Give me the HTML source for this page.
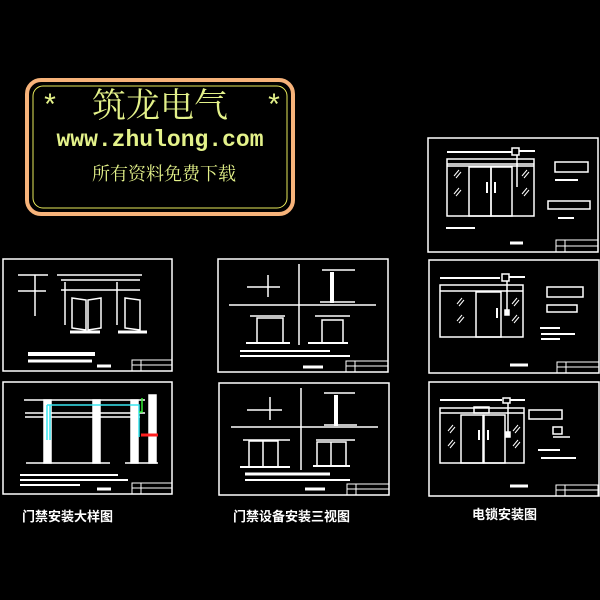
<!DOCTYPE html>
<html><head><meta charset="utf-8"><style>
html,body{margin:0;padding:0;background:#000;width:600px;height:600px;overflow:hidden}
svg{display:block}
.t{font-family:"Liberation Sans","Noto Sans CJK SC",sans-serif;font-weight:bold;fill:#fff}
</style></head><body>
<svg width="600" height="600" viewBox="0 0 600 600" xmlns="http://www.w3.org/2000/svg">
<rect width="600" height="600" fill="#000"/>
<!-- logo -->
<rect x="27" y="80" width="266" height="134" rx="14" fill="none" stroke="#f7b37a" stroke-width="4"/>
<rect x="33" y="86" width="254" height="122" rx="10" fill="none" stroke="#e8ea5a" stroke-width="1"/>
<g fill="#e4f28a" font-family="'Noto Serif CJK SC','Noto Sans CJK SC',serif">
<text x="50" y="115" font-size="30" text-anchor="middle" font-family="'Liberation Mono',monospace">*</text>
<text x="274" y="115" font-size="30" text-anchor="middle" font-family="'Liberation Mono',monospace">*</text>
<text x="160" y="117" font-size="34" text-anchor="middle">筑龙电气</text>
<text x="160" y="146" font-size="23" text-anchor="middle" font-family="'Liberation Mono',monospace" font-weight="bold">www.zhulong.com</text>
<text x="164" y="180" font-size="18" text-anchor="middle">所有资料免费下载</text>
</g>
<g fill="none" stroke="#fff" stroke-width="1.5">
<!-- panel frames -->
<rect x="3" y="259" width="169" height="112"/>
<rect x="3" y="382" width="169" height="112"/>
<rect x="218" y="259" width="170" height="113"/>
<rect x="219" y="383" width="170" height="112"/>
<rect x="428" y="138" width="170" height="114"/>
<rect x="429" y="260" width="170" height="113"/>
<rect x="429" y="382" width="170" height="114"/>
<!-- title blocks -->
<g stroke-width="1">
<rect x="132" y="360" width="40" height="11"/><line x1="132" y1="365" x2="172" y2="365"/><line x1="141" y1="360" x2="141" y2="371"/>
<rect x="132" y="483" width="40" height="11"/><line x1="132" y1="488" x2="172" y2="488"/><line x1="141" y1="483" x2="141" y2="494"/>
<rect x="346" y="361" width="42" height="11"/><line x1="346" y1="366" x2="388" y2="366"/><line x1="355" y1="361" x2="355" y2="372"/>
<rect x="347" y="484" width="42" height="11"/><line x1="347" y1="489" x2="389" y2="489"/><line x1="356" y1="484" x2="356" y2="495"/>
<rect x="556" y="240" width="42" height="12"/><line x1="556" y1="246" x2="598" y2="246"/><line x1="565" y1="240" x2="565" y2="252"/>
<rect x="557" y="362" width="42" height="11"/><line x1="557" y1="367" x2="599" y2="367"/><line x1="566" y1="362" x2="566" y2="373"/>
<rect x="556" y="485" width="42" height="11"/><line x1="556" y1="490" x2="598" y2="490"/><line x1="565" y1="485" x2="565" y2="496"/>
</g>
<!-- panel A -->
<line x1="35" y1="275" x2="35" y2="316"/><line x1="18" y1="275" x2="48" y2="275"/><line x1="18" y1="291" x2="46" y2="291"/>
<line x1="57" y1="275" x2="142" y2="275"/><line x1="61" y1="280" x2="140" y2="280"/><line x1="61" y1="290" x2="140" y2="290"/>
<line x1="65" y1="282" x2="65" y2="325"/><line x1="117" y1="282" x2="117" y2="325"/>
<path d="M72 298 L72 328 L86 330 L86 300 Z M88 300 L88 330 L101 328 L101 298 Z"/>
<path d="M125 298 L125 328 L140 330 L140 300 Z"/>
<line x1="70" y1="332" x2="100" y2="332" stroke-width="3"/><line x1="118" y1="332" x2="147" y2="332" stroke-width="3"/>
<line x1="28" y1="354" x2="95" y2="354" stroke-width="4"/><line x1="28" y1="361" x2="92" y2="361" stroke-width="3"/><line x1="97" y1="366" x2="111" y2="366" stroke-width="3"/>
<!-- panel B -->
<line x1="24" y1="400" x2="145" y2="400"/><line x1="25" y1="413" x2="145" y2="413"/><line x1="25" y1="417" x2="140" y2="417"/>
<rect x="44" y="400" width="7" height="63" fill="#fff"/><rect x="93" y="400" width="7" height="63" fill="#fff"/><rect x="131" y="400" width="7" height="63" fill="#fff"/><rect x="149" y="395" width="7" height="68" fill="#fff"/>
<line x1="26" y1="463" x2="110" y2="463"/><line x1="125" y1="463" x2="158" y2="463"/>
<line x1="20" y1="475" x2="118" y2="475" stroke-width="2"/><line x1="20" y1="480" x2="128" y2="480" stroke-width="2"/><line x1="20" y1="485" x2="80" y2="485" stroke-width="2"/>
<line x1="97" y1="489" x2="111" y2="489" stroke-width="3"/>
<!-- panel C (middle top) -->
<line x1="299" y1="264" x2="299" y2="345"/><line x1="229" y1="305" x2="376" y2="305"/>
<line x1="247" y1="287" x2="280" y2="287"/><line x1="268" y1="275" x2="268" y2="297"/>
<line x1="332" y1="272" x2="332" y2="303" stroke-width="4"/><line x1="322" y1="270" x2="355" y2="270"/><line x1="320" y1="302" x2="355" y2="302"/>
<path d="M257 343 L257 318 L283 318 L283 343"/><line x1="250" y1="316" x2="285" y2="316"/><line x1="246" y1="343" x2="290" y2="343" stroke-width="2"/>
<path d="M322 343 L322 320 L343 320 L343 343"/><line x1="315" y1="316" x2="350" y2="316"/><line x1="308" y1="343" x2="348" y2="343" stroke-width="2"/>
<line x1="240" y1="351" x2="330" y2="351" stroke-width="2"/><line x1="240" y1="356" x2="350" y2="356" stroke-width="2"/>
<line x1="303" y1="367" x2="323" y2="367" stroke-width="3"/>
<!-- panel D (middle bottom) -->
<line x1="301" y1="388" x2="301" y2="470"/><line x1="231" y1="427" x2="378" y2="427"/>
<line x1="247" y1="410" x2="282" y2="410"/><line x1="270" y1="397" x2="270" y2="420"/>
<line x1="336" y1="395" x2="336" y2="426" stroke-width="4"/><line x1="324" y1="393" x2="355" y2="393"/><line x1="324" y1="425" x2="357" y2="425"/>
<path d="M249 467 L249 441 L278 441 L278 467 M263 441 L263 467"/><line x1="243" y1="440" x2="290" y2="440"/><line x1="240" y1="467" x2="290" y2="467" stroke-width="2"/>
<path d="M317 466 L317 442 L346 442 L346 466 M331 442 L331 466"/><line x1="316" y1="440" x2="355" y2="440"/><line x1="313" y1="466" x2="350" y2="466" stroke-width="2"/>
<line x1="245" y1="474" x2="330" y2="474" stroke-width="3"/><line x1="245" y1="480" x2="350" y2="480" stroke-width="2"/>
<line x1="305" y1="489" x2="325" y2="489" stroke-width="3"/>
<!-- panel E (right top) -->
<line x1="447" y1="152" x2="512" y2="152" stroke-width="2"/><rect x="512" y="148" width="7" height="7"/><line x1="519" y1="151" x2="535" y2="151" stroke-width="2"/>
<rect x="447" y="159" width="87" height="57"/><line x1="447" y1="164" x2="534" y2="164"/><line x1="447" y1="166" x2="534" y2="166"/>
<rect x="469" y="167" width="22" height="49"/><rect x="491" y="167" width="21" height="49"/>
<line x1="487" y1="182" x2="487" y2="193" stroke-width="2"/><line x1="495" y1="182" x2="495" y2="193" stroke-width="2"/>
<line x1="517" y1="155" x2="517" y2="187"/>
<rect x="555" y="162" width="33" height="10"/><line x1="555" y1="180" x2="578" y2="180" stroke-width="2"/>
<rect x="548" y="201" width="42" height="8"/><line x1="558" y1="218" x2="574" y2="218" stroke-width="2"/>
<line x1="446" y1="228" x2="475" y2="228" stroke-width="2"/><line x1="510" y1="243" x2="523" y2="243" stroke-width="3"/>
<!-- panel F (right mid) -->
<line x1="440" y1="278" x2="500" y2="278" stroke-width="2"/><rect x="502" y="274" width="7" height="7"/><line x1="509" y1="277" x2="525" y2="277" stroke-width="2"/>
<rect x="440" y="285" width="83" height="52"/><line x1="440" y1="291" x2="523" y2="291"/><rect x="476" y="292" width="25" height="45"/>
<line x1="507" y1="281" x2="507" y2="312"/><rect x="505" y="310" width="4" height="5" fill="#fff"/>
<line x1="497" y1="308" x2="497" y2="318" stroke-width="2"/>
<rect x="547" y="287" width="36" height="10"/><rect x="547" y="305" width="30" height="7"/>
<line x1="540" y1="328" x2="560" y2="328" stroke-width="2"/><line x1="541" y1="334" x2="575" y2="334" stroke-width="2"/><line x1="541" y1="339" x2="560" y2="339" stroke-width="2"/>
<line x1="510" y1="365" x2="528" y2="365" stroke-width="3"/>
<!-- panel G (right bottom) -->
<line x1="440" y1="400" x2="502" y2="400" stroke-width="2"/><rect x="503" y="398" width="7" height="5"/><line x1="510" y1="400" x2="525" y2="400" stroke-width="2"/>
<rect x="440" y="408" width="84" height="55"/><line x1="440" y1="413" x2="524" y2="413"/>
<rect x="474" y="407" width="15" height="6"/>
<rect x="461" y="415" width="22" height="48"/><rect x="484" y="415" width="21" height="48"/>
<line x1="479" y1="430" x2="479" y2="440" stroke-width="2"/><line x1="488" y1="430" x2="488" y2="440" stroke-width="2"/>
<line x1="508" y1="403" x2="508" y2="432"/><rect x="506" y="432" width="4" height="5" fill="#fff"/>
<rect x="529" y="410" width="33" height="9"/><rect x="553" y="427" width="9" height="7"/><line x1="553" y1="437" x2="570" y2="437"/>
<line x1="538" y1="450" x2="560" y2="450" stroke-width="2"/><line x1="541" y1="458" x2="576" y2="458" stroke-width="2"/>
<line x1="510" y1="486" x2="528" y2="486" stroke-width="3"/>
</g>
<!-- cyan / color accents panel B -->
<g fill="none" stroke-width="1.5">
<path d="M47 405 L47 440 M50 405 L50 440 M47 405 L139 405 L139 437" stroke="#39e6f0"/>
<path d="M142 398 L142 412 L139 412" stroke="#33ee33"/>
<line x1="141" y1="435" x2="158" y2="435" stroke="#ff2020" stroke-width="3"/>
</g>
<!-- glass marks -->
<g stroke="#fff" stroke-width="1">
<path d="M454 176 l5 -6 M456 178 l5 -6 M454 194 l5 -6 M456 196 l5 -6 M522 176 l5 -6 M524 178 l5 -6 M522 194 l5 -6 M524 196 l5 -6"/>
<path d="M457 304 l5 -6 M459 306 l5 -6 M457 321 l5 -6 M459 323 l5 -6 M512 304 l5 -6 M514 306 l5 -6 M512 321 l5 -6 M514 323 l5 -6"/>
<path d="M448 431 l5 -6 M450 433 l5 -6 M448 446 l5 -6 M450 448 l5 -6 M513 431 l5 -6 M515 433 l5 -6 M513 446 l5 -6 M515 448 l5 -6"/>
</g>
<!-- captions -->
<text class="t" x="22" y="521" font-size="13">门禁安装大样图</text>
<text class="t" x="233" y="521" font-size="13">门禁设备安装三视图</text>
<text class="t" x="472" y="519" font-size="13">电锁安装图</text>
</svg>
</body></html>
